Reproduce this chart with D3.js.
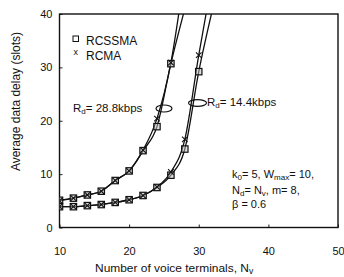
<!DOCTYPE html>
<html><head><meta charset="utf-8">
<script src="https://cdn.jsdelivr.net/npm/d3@7/dist/d3.min.js"></script>
<style>body{margin:0;background:#fff}svg{display:block}text{font-family:"Liberation Sans",Arial,sans-serif;fill:#111}</style>
</head><body><svg id="c" width="344" height="277"></svg>
<script>
const xTicks = [10,20,30,40,50];
const yTicks = [0,10,20,30,40];
const xs28 = [10,12,14,16,18,20,22,24,26,28];
const rcssma28 = [5.1,5.5,6.1,6.8,8.8,10.6,14.4,18.9,30.7,41];
const rcma28 = [5.0,5.5,6.1,6.8,8.8,10.6,14.5,20.4,30.9,48];
const xs14 = [10,12,14,16,18,20,22,24,26,28,30,32];
const rcssma14 = [3.9,3.9,4.1,4.3,4.7,5.2,6.0,7.5,9.8,14.7,29.2,41];
const rcma14 = [3.9,3.9,4.1,4.3,4.7,5.2,6.0,7.6,10.4,16.5,32.3,47];

const svg = d3.select("#c");
const L=59.5, R=338, T=14, B=227.5;
const x = d3.scaleLinear().domain([10,50]).range([L,R]);
const y = d3.scaleLinear().domain([0,40]).range([B,T]);

svg.append("clipPath").attr("id","clip").append("rect").attr("x",L).attr("y",T).attr("width",R-L).attr("height",B-T);

const gx = svg.append("g").attr("transform",`translate(0,${B})`)
  .call(d3.axisBottom(x).tickValues(xTicks).tickSize(-3).tickPadding(24).tickFormat(d3.format("d")));
const gy = svg.append("g").attr("transform",`translate(${L},0)`)
  .call(d3.axisLeft(y).tickValues(yTicks).tickSize(-3).tickPadding(7).tickFormat(d3.format("d")));
[gx,gy].forEach(g=>{g.select(".domain").remove();g.selectAll("line").attr("stroke","#222");g.selectAll("text").attr("font-size",11).style("font-family","Liberation Sans, Arial, sans-serif").attr("fill","#111");});
gx.selectAll("text").attr("dy","0.3em");

svg.append("rect").attr("x",L).attr("y",T).attr("width",R-L).attr("height",B-T).attr("fill","none").attr("stroke","#111").attr("stroke-width",1.4);

const plot = svg.append("g").attr("clip-path","url(#clip)");
const line = d3.line().x(d=>x(d[0])).y(d=>y(d[1])).curve(d3.curveMonotoneX);
const series = [
  {xs:xs28, v:rcssma28, m:"sq"},{xs:xs28, v:rcma28, m:"x"},
  {xs:xs14, v:rcssma14, m:"sq"},{xs:xs14, v:rcma14, m:"x"}];
series.forEach(s=>{
  const pts = s.xs.map((xv,i)=>[xv,s.v[i]]);
  plot.append("path").attr("d",line(pts)).attr("fill","none").attr("stroke","#111").attr("stroke-width",1.3);
});
series.forEach(s=>{
  const pts = s.xs.map((xv,i)=>[xv,s.v[i]]).filter(p=>p[1]<=40);
  if(s.m==="sq"){
    plot.selectAll(null).data(pts).enter().append("rect")
      .attr("x",d=>x(d[0])-3.2).attr("y",d=>y(d[1])-3.2).attr("width",6.4).attr("height",6.4)
      .attr("fill","#bbb").attr("fill-opacity",0.5).attr("stroke","#111").attr("stroke-width",1.2);
  } else {
    plot.selectAll(null).data(pts).enter().append("path")
      .attr("d",d=>{const cx=x(d[0]),cy=y(d[1]),r=2.8;return `M${cx-r},${cy-r}L${cx+r},${cy+r}M${cx-r},${cy+r}L${cx+r},${cy-r}`;})
      .attr("stroke","#111").attr("stroke-width",1.1);
  }
});

// legend
svg.append("rect").attr("x",73).attr("y",36).attr("width",5.5).attr("height",5.5).attr("fill","none").attr("stroke","#111").attr("stroke-width",1);
svg.append("text").attr("x",86).attr("y",45).attr("font-size",12).text("RCSSMA");
svg.append("text").attr("x",73.5).attr("y",55).attr("font-size",9).text("x");
svg.append("text").attr("x",86).attr("y",60).attr("font-size",12).text("RCMA");

// Rd annotations
svg.append("ellipse").attr("cx",164).attr("cy",108.5).attr("rx",8).attr("ry",3.5).attr("fill","none").attr("stroke","#111").attr("stroke-width",1.2);
svg.append("ellipse").attr("cx",197.5).attr("cy",103).attr("rx",9).attr("ry",3.3).attr("fill","none").attr("stroke","#111").attr("stroke-width",1.2);
function rd(xp,yp,val){
  const t = svg.append("text").attr("x",xp).attr("y",yp).attr("font-size",11.5);
  t.append("tspan").text("R");
  t.append("tspan").attr("font-size",8).attr("dy",2).text("d");
  t.append("tspan").attr("dy",-2).text("= "+val);
}
rd(73,112,"28.8kbps");
rd(207,106,"14.4kbps");

// parameter block
const p1 = svg.append("text").attr("x",232).attr("y",178).attr("font-size",11);
p1.append("tspan").text("k");
p1.append("tspan").attr("font-size",8).attr("dy",2).text("0");
p1.append("tspan").attr("dy",-2).text("= 5, W");
p1.append("tspan").attr("font-size",8).attr("dy",2).text("max");
p1.append("tspan").attr("dy",-2).text("= 10,");
const p2 = svg.append("text").attr("x",232).attr("y",194).attr("font-size",11);
p2.append("tspan").text("N");
p2.append("tspan").attr("font-size",8).attr("dy",2).text("d");
p2.append("tspan").attr("dy",-2).text("= N");
p2.append("tspan").attr("font-size",8).attr("dy",2).text("v");
p2.append("tspan").attr("dy",-2).text(", m= 8,");
svg.append("text").attr("x",232).attr("y",208).attr("font-size",11).text("β = 0.6");

// axis titles
const xt = svg.append("text").attr("x",95).attr("y",272).attr("font-size",11.5);
xt.append("tspan").attr("textLength",154).attr("lengthAdjust","spacingAndGlyphs").text("Number of voice terminals, N");
xt.append("tspan").attr("font-size",8.5).attr("dy",2).text("v");
svg.append("text").attr("transform","translate(20,101.5) rotate(-90)").attr("text-anchor","middle").attr("font-size",12).text("Average data delay (slots)");
</script></body></html>
